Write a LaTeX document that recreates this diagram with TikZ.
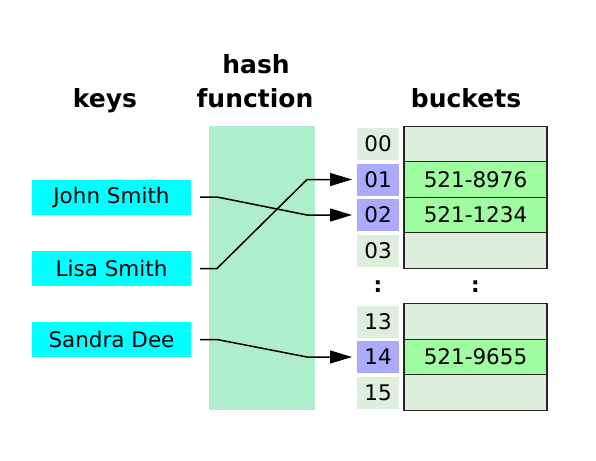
\documentclass[tikz,border=0pt]{standalone}
\usepackage{fontspec}
\setmainfont{DejaVu Sans}
\usetikzlibrary{arrows.meta, positioning}
\definecolor{keycyan}{RGB}{0,255,255}
\definecolor{hashmint}{RGB}{174,238,204}
\definecolor{slotgrey}{RGB}{221,238,221}
\definecolor{slothit}{RGB}{170,170,255}
\definecolor{bucketfull}{RGB}{160,252,160}

\begin{document}
\begin{tikzpicture}[
    x=1pt, y=-1pt,
    % Node styles
    title/.style={
        font=\fontsize{25}{34}\selectfont\bfseries,
        inner sep=0pt,
        anchor=base
    },
    keybox/.style={
        rectangle,
        fill=keycyan,
        minimum width=159pt,
        minimum height=35pt,
        inner sep=0pt,
        outer sep=0pt,
        font=\fontsize{21.5}{25}\selectfont
    },
    hashbox/.style={
        rectangle,
        fill=hashmint,
        minimum width=106pt,
        minimum height=284pt,
        inner sep=0pt
    },
    slot/.style={
        rectangle,
        fill=slotgrey,
        minimum width=42pt,
        minimum height=32pt,
        inner sep=0pt,
        outer sep=0pt,
        font=\fontsize{21.5}{25}\selectfont
    },
    hitslot/.style={
        slot,
        fill=slothit
    },
    bucket/.style={
        rectangle,
        draw=black!85,
        line width=1.3pt,
        fill=slotgrey,
        minimum width=143pt,
        minimum height=35.5pt,
        inner sep=0pt,
        outer sep=0pt,
        font=\fontsize{21.5}{25}\selectfont
    },
    fullbucket/.style={
        bucket,
        fill=bucketfull
    },
    gap/.style={
        font=\fontsize{21.5}{25}\selectfont\bfseries,
        inner sep=0pt
    },
    link/.style={
        -{Triangle[length=22pt, width=13pt]},
        line width=1.5pt,
        black
    }
]
\useasboundingbox (0,0) rectangle (596,460);

% --- Titles ---
\node[title] (keystitle) at (105,107) {keys};
\node[title] (hashtop) at (256,73) {hash};
\node[title] (hashbottom) at (255,107) {function};
\node[title] (buckettitle) at (466,107) {buckets};

% --- Hash function band ---
\node[hashbox] (hash) at (262,268) {};

% --- Keys ---
\node[keybox] (john) at (111.5,197) {John Smith};
\node[keybox] (lisa) at (111.5,268.5) {Lisa Smith};
\node[keybox] (sandra) at (111.5,339.5) {Sandra Dee};

% --- Slot indices ---
\node[slot] (idx00) at (378,144) {00};
\node[hitslot, below=3.5pt of idx00] (idx01) {01};
\node[hitslot, below=3.5pt of idx01] (idx02) {02};
\node[slot, below=3.5pt of idx02] (idx03) {03};

\node[slot] (idx13) at (378,321.5) {13};
\node[hitslot, below=3.5pt of idx13] (idx14) {14};
\node[slot, below=3.5pt of idx14] (idx15) {15};

% --- Buckets ---
\node[bucket, right=5pt of idx00] (bkt00) {};
\node[fullbucket, right=5pt of idx01] (bkt01) {521-8976};
\node[fullbucket, right=5pt of idx02] (bkt02) {521-1234};
\node[bucket, right=5pt of idx03] (bkt03) {};

\node[bucket, right=5pt of idx13] (bkt13) {};
\node[fullbucket, right=5pt of idx14] (bkt14) {521-9655};
\node[bucket, right=5pt of idx15] (bkt15) {};

% --- Elision marks ---
\node[gap] (idxdots) at (378,287) {:};
\node[gap] (bktdots) at (475.5,287) {:};

% --- Arrows ---
\draw[link] ([xshift=9pt]john.east) -- ++(17pt,0) -- ([xshift=-50pt]idx02.west) -- ([xshift=-5pt]idx02.west);
\draw[link] ([xshift=9pt]lisa.east) -- ++(17pt,0) -- ([xshift=-50pt]idx01.west) -- ([xshift=-5pt]idx01.west);
\draw[link] ([xshift=9pt]sandra.east) -- ++(17pt,0) -- ([xshift=-50pt]idx14.west) -- ([xshift=-5pt]idx14.west);

\end{tikzpicture}
\end{document}
